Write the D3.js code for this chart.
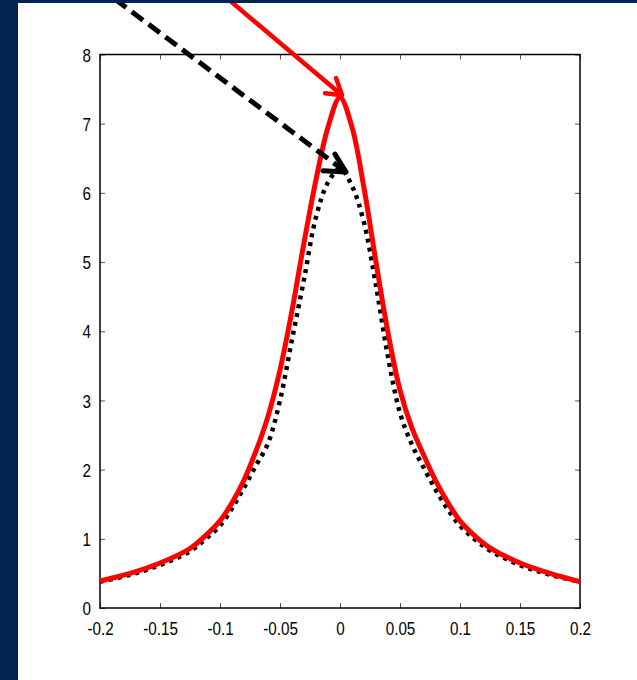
<!DOCTYPE html>
<html>
<head>
<meta charset="utf-8">
<script src="https://cdn.jsdelivr.net/npm/d3@7"></script>
<style>
  html, body { margin: 0; padding: 0; background: #ffffff; }
  svg { display: block; }
</style>
</head>
<body>
<svg id="chart" width="637" height="680"></svg>
<script>
// ---- data ----
const xValues = [-0.2, -0.175, -0.15, -0.125, -0.1125, -0.1, -0.09, -0.08, -0.07, -0.06, -0.05, -0.04, -0.03, -0.02, -0.01, 0,
                 0.01, 0.02, 0.03, 0.04, 0.05, 0.06, 0.07, 0.08, 0.09, 0.1, 0.1125, 0.125, 0.15, 0.175, 0.2];
const redSeries = [0.39, 0.5, 0.65, 0.86, 1.04, 1.26, 1.52, 1.85, 2.27, 2.77, 3.44, 4.3, 5.28, 6.19, 6.95, 7.38,
                   6.95, 6.07, 5.0, 3.98, 3.15, 2.6, 2.2, 1.83, 1.52, 1.26, 1.04, 0.87, 0.65, 0.5, 0.38];
const blackSeries = [0.38, 0.48, 0.62, 0.82, 0.99, 1.19, 1.44, 1.74, 2.06, 2.38, 3.0, 3.88, 4.75, 5.65, 6.15, 6.35,
                     6.1, 5.57, 4.66, 3.63, 2.82, 2.36, 2.02, 1.7, 1.42, 1.19, 0.99, 0.83, 0.62, 0.48, 0.38];
const xTickValues = [-0.2, -0.15, -0.1, -0.05, 0, 0.05, 0.1, 0.15, 0.2];
const xTickLabels = ["-0.2", "-0.15", "-0.1", "-0.05", "0", "0.05", "0.1", "0.15", "0.2"];
const yTickValues = [0, 1, 2, 3, 4, 5, 6, 7, 8];
const yTickLabels = ["0", "1", "2", "3", "4", "5", "6", "7", "8"];
// hand-drawn annotation arrows (data coordinates: [x, y])
const redArrowLine = [[-0.0933, 8.80], [0.0017, 7.41]];
const redArrowHead = [[-0.0033, 7.66], [0.0017, 7.41], [-0.0125, 7.44]];
const blackArrowLine = [[-0.1875, 8.80], [0.005, 6.30]];
const blackArrowHead = [[-0.0042, 6.56], [0.005, 6.30], [-0.0142, 6.32]];

// ---- layout ----
const W = 637, H = 680;
const plot = { left: 100, top: 54.5, right: 580, bottom: 608 };

const svg = d3.select("#chart");
const x = d3.scaleLinear().domain([-0.2, 0.2]).range([plot.left, plot.right]);
const y = d3.scaleLinear().domain([0, 8]).range([plot.bottom, plot.top]);

svg.append("rect").attr("x", 0).attr("y", 0).attr("width", W).attr("height", H).attr("fill", "#ffffff");

const FONT = "'Liberation Sans Narrow', 'Liberation Sans', Arial, sans-serif";
// detect narrow font
const probe = svg.append("text").style("font-family", "'Liberation Sans Narrow', 'Liberation Sans'").style("font-size", "19px").text("0.15 -0.05");
const wNarrow = probe.node().getComputedTextLength();
probe.style("font-family", "'Liberation Sans'");
const wRegular = probe.node().getComputedTextLength();
probe.remove();
const needSqueeze = wNarrow > wRegular * 0.92;

// axes
const gx = svg.append("g").attr("transform", `translate(0,${plot.bottom})`)
  .call(d3.axisBottom(x).tickValues(xTickValues).tickSize(-5).tickPadding(10)
        .tickFormat((d, i) => xTickLabels[i]));
const gxTop = svg.append("g").attr("transform", `translate(0,${plot.top})`)
  .call(d3.axisTop(x).tickValues(xTickValues).tickSize(-5).tickFormat(""));
const gy = svg.append("g").attr("transform", `translate(${plot.left},0)`)
  .call(d3.axisLeft(y).tickValues(yTickValues).tickSize(-5).tickPadding(9)
        .tickFormat((d, i) => yTickLabels[i]));
const gyRight = svg.append("g").attr("transform", `translate(${plot.right},0)`)
  .call(d3.axisRight(y).tickValues(yTickValues).tickSize(-5).tickFormat(""));

[gx, gxTop, gy, gyRight].forEach(g => {
  g.select(".domain").remove();
  g.selectAll(".tick line").attr("stroke", "#555").attr("stroke-width", 1);
  g.selectAll("text").attr("fill", "#000").style("font-family", FONT).style("font-size", "19px");
});
gx.selectAll(".tick text").attr("dy", null).attr("y", 27);
gy.selectAll(".tick text").attr("dy", "0.35em");

if (needSqueeze) {
  svg.selectAll(".tick text").each(function () {
    const t = d3.select(this);
    const w = this.getComputedTextLength();
    if (w > 0) t.attr("textLength", w * 0.8).attr("lengthAdjust", "spacingAndGlyphs");
  });
}

// frame
svg.append("rect")
  .attr("x", plot.left).attr("y", plot.top)
  .attr("width", plot.right - plot.left).attr("height", plot.bottom - plot.top)
  .attr("fill", "none").attr("stroke", "#000").attr("stroke-width", 1.5);

// curves
const pts = s => xValues.map((v, i) => [v, s[i]]);
const curveLine = d3.line().x(d => x(d[0])).y(d => y(d[1])).curve(d3.curveCatmullRom.alpha(0.5));

svg.append("path").datum(pts(blackSeries))
  .attr("d", curveLine).attr("fill", "none")
  .attr("stroke", "#000").attr("stroke-width", 4.5).attr("stroke-dasharray", "4,5");

svg.append("path").datum(pts(redSeries))
  .attr("d", curveLine).attr("fill", "none")
  .attr("stroke", "#ff0000").attr("stroke-width", 5).attr("stroke-linejoin", "round");

// arrows
const straight = d3.line().x(d => x(d[0])).y(d => y(d[1]));
svg.append("path").datum(blackArrowLine).attr("d", straight)
  .attr("fill", "none").attr("stroke", "#000").attr("stroke-width", 5).attr("stroke-dasharray", "14,7");
svg.append("path").datum(blackArrowHead).attr("d", straight)
  .attr("fill", "none").attr("stroke", "#000").attr("stroke-width", 5)
  .attr("stroke-linejoin", "round").attr("stroke-linecap", "round");
svg.append("path").datum(redArrowLine).attr("d", straight)
  .attr("fill", "none").attr("stroke", "#ff0000").attr("stroke-width", 4.5);
svg.append("path").datum(redArrowHead).attr("d", straight)
  .attr("fill", "none").attr("stroke", "#ff0000").attr("stroke-width", 4.5)
  .attr("stroke-linejoin", "round").attr("stroke-linecap", "round");

// slide frame (navy strips)
svg.append("rect").attr("x", 0).attr("y", 0).attr("width", W).attr("height", 3).attr("fill", "#00234f");
svg.append("rect").attr("x", 0).attr("y", 0).attr("width", 18).attr("height", H).attr("fill", "#00234f");
</script>
</body>
</html>
